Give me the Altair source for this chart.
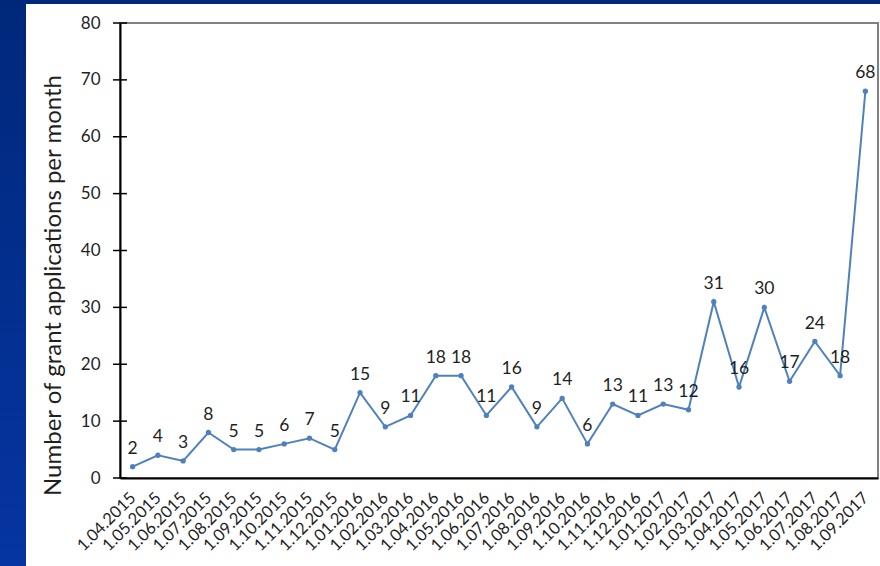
import altair as alt
import pandas as pd

months = [
    "1.04.2015", "1.05.2015", "1.06.2015", "1.07.2015", "1.08.2015", "1.09.2015",
    "1.10.2015", "1.11.2015", "1.12.2015", "1.01.2016", "1.02.2016", "1.03.2016",
    "1.04.2016", "1.05.2016", "1.06.2016", "1.07.2016", "1.08.2016", "1.09.2016",
    "1.10.2016", "1.11.2016", "1.12.2016", "1.01.2017", "1.02.2017", "1.03.2017",
    "1.04.2017", "1.05.2017", "1.06.2017", "1.07.2017", "1.08.2017", "1.09.2017",
]
applications = [
    2, 4, 3, 8, 5, 5, 6, 7, 5, 15, 9, 11,
    18, 18, 11, 16, 9, 14, 6, 13, 11, 13, 12, 31,
    16, 30, 17, 24, 18, 68,
]
y_ticks = [0, 10, 20, 30, 40, 50, 60, 70, 80]

df = pd.DataFrame({"month": months, "count": applications})
ticks_df = pd.DataFrame({"count": y_ticks})

FONT = "Lato"
TEXT = "#1f1f1f"
LINE = "#4f81bd"

x_enc = alt.X(
    "month:N",
    sort=months,
    scale=alt.Scale(paddingInner=0, paddingOuter=0),
    axis=alt.Axis(
        title=None,
        labelAngle=315,
        labelAlign="right",
        labelBaseline="middle",
        labelFont=FONT,
        labelFontSize=16.5,
        labelColor=TEXT,
        labelPadding=17,
        ticks=False,
        domainColor="#000000",
        domainWidth=2,
        labelOverlap=False,
        zindex=2,
    ),
)
y_scale = alt.Scale(domain=[0, 80], nice=False)
y_enc = alt.Y(
    "count:Q",
    scale=y_scale,
    axis=alt.Axis(
        title="Number of grant applications per month",
        values=y_ticks,
        grid=False,
        ticks=False,
        labelPadding=20,
        labelFont=FONT,
        labelFontSize=17,
        labelColor=TEXT,
        domainColor="#000000",
        domainWidth=2,
        titleFont=FONT,
        titleFontSize=24,
        titleFontWeight="normal",
        titleColor=TEXT,
        titleAngle=270,
        titleX=-67,
        titleY=262,
        titleAlign="center",
        titleBaseline="middle",
        zindex=2,
    ),
)

# slide backdrop and white panel
backdrop = alt.Chart(ticks_df).mark_rect(
    color=alt.Gradient(
        gradient="linear",
        stops=[
            alt.GradientStop(color="#00287a", offset=0),
            alt.GradientStop(color="#0535a2", offset=1),
        ],
        x1=0, x2=0, y1=0, y2=1,
    )
).encode(x=alt.value(-120), x2=alt.value(762), y=alt.value(-23), y2=alt.value(545))

panel = alt.Chart(ticks_df).mark_rect(color="white").encode(
    x=alt.value(-94), x2=alt.value(762), y=alt.value(-19), y2=alt.value(545)
)

# grey frame around the plot area
frame = alt.Chart(ticks_df).mark_rect(
    fill=None, stroke="#808080", strokeWidth=2
).encode(x=alt.value(0), x2=alt.value(758), y=alt.value(0), y2=alt.value(455))

# cross-shaped ticks on the value axis
tick_marks = alt.Chart(ticks_df).mark_rule(color="#000000", strokeWidth=1.5).encode(
    y=y_enc,
    x=alt.value(-7),
    x2=alt.value(7),
)

base = alt.Chart(df).encode(x=x_enc, y=y_enc)
line = base.mark_line(color=LINE, strokeWidth=2)
points = base.mark_circle(color=LINE, size=28, opacity=1)
labels = base.mark_text(
    dy=-9, font=FONT, fontSize=17.5, color=TEXT, baseline="bottom"
).encode(text="count:Q")

chart = (
    alt.layer(backdrop, panel, frame, line, points, labels, tick_marks)
    .properties(
        width=758,
        height=455,
        autosize=alt.AutoSizeParams(type="none"),
        padding={"left": 120, "top": 23, "right": 2, "bottom": 88},
        background="#0535a2",
    )
    .configure_view(stroke=None)
)

chart.save("out.html", embed_options={"renderer": "svg", "actions": False})
